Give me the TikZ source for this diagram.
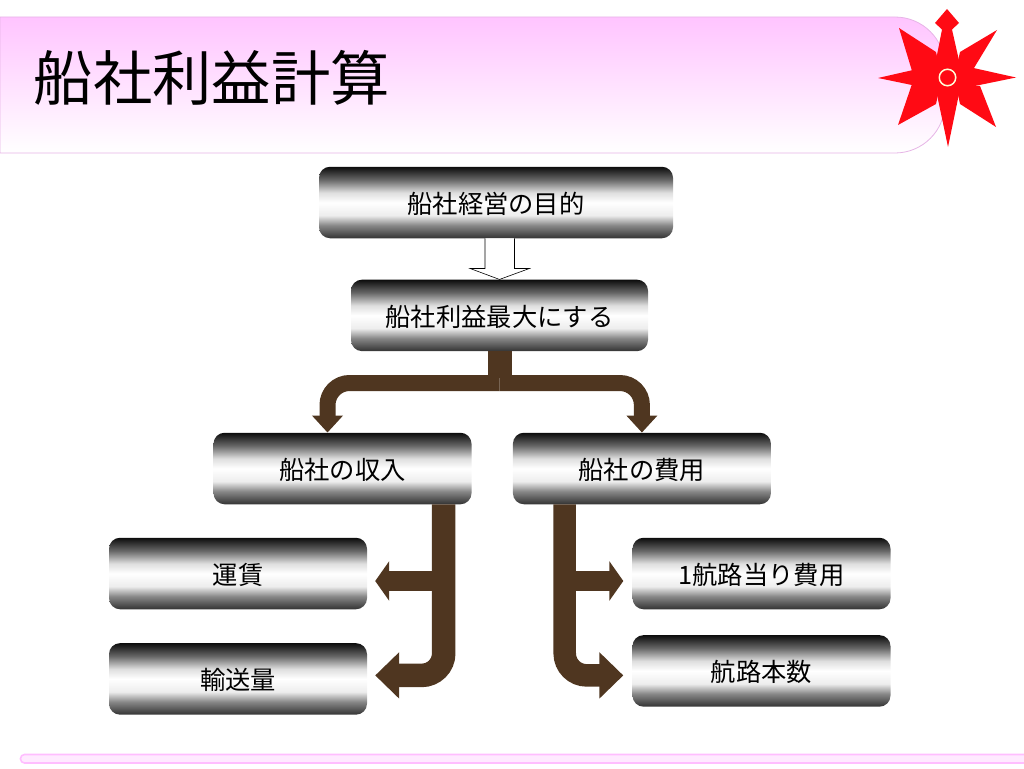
\documentclass[tikz,border=0pt]{standalone}
\usepackage{fontspec}
\setmainfont{Noto Sans CJK JP}
\usepackage{xcolor}
\usetikzlibrary{positioning,arrows.meta,calc}
\definecolor{bannerline}{HTML}{E6B4E6}
\definecolor{bannerpink}{HTML}{FFC4FF}
\definecolor{footerline}{HTML}{FFBEFF}
\definecolor{marble}{HTML}{4F3620}
\definecolor{compass}{HTML}{FF0A14}
\pgfdeclareverticalshading{metal}{100bp}{color(0bp)=(black!80); color(25bp)=(black!80); color(34bp)=(black!47);
    color(41bp)=(black!7); color(50bp)=(white); color(57bp)=(black!13); color(66bp)=(black!60);
    color(75bp)=(black!95); color(100bp)=(black!95)}
\tikzset{
    metalbox/.style={rounded corners=11pt, shade, shading=metal, minimum width=258pt, minimum height=71.5pt,
        inner sep=0pt, text height=21.4pt, text depth=0pt, font=\fontsize{25.3pt}{28pt}\selectfont},
    marblebar/.style={draw=marble, line width=#1},
    marblelink/.style={marblebar=#1, rounded corners=22pt},
    bigtip/.style={-{Triangle[width=45pt,length=24pt]}},
    midtip/.style={-{Triangle[width=39pt,length=14pt]}},
    toptip/.style={-{Triangle[width=30pt,length=17pt]}}
}

\begin{document}
\begin{tikzpicture}[x=1pt,y=-1pt]
    \useasboundingbox (0,0) rectangle (1024,768);

    \path[draw=bannerline, line width=0.8pt, top color=bannerpink, bottom color=white]
        (0,17) [rounded corners=50pt] -- (945,17) -- (945,153) [sharp corners] -- (0,153) -- cycle;
    \node[anchor=west, inner sep=0pt, font=\fontsize{59.4pt}{64pt}\selectfont] (title) at (33.5,78) {船社利益計算};

    \fill[compass] (899,28) -- (936,52) -- (940,70) -- (912,71) -- cycle;
    \fill[compass] (997,30) -- (960,52) -- (956,70) -- (974,68) -- cycle;
    \fill[compass] (898,125) -- (936,104) -- (940,85) -- (912,84) -- cycle;
    \fill[compass] (996,127) -- (960,104) -- (956,85) -- (980,86) -- cycle;
    \fill[compass] (947,9) -- (959,23) -- (952,29.5) -- (960,65) -- (1016,77.5) -- (960,89)
        -- (948,147) -- (936,90) -- (878,78) -- (935,65) -- (942,29.5) -- (935,23) -- cycle;
    \node[circle, draw=white!85!yellow, line width=1.5pt, fill=compass, minimum size=16.5pt, inner sep=0pt] (hub) at (947.5,77.5) {};

    \node[metalbox, minimum width=354pt] (goal) at (496,202.5) {船社経営の目的};
    \node[metalbox, minimum width=297pt, below=41pt of goal, xshift=3.5pt] (profit) {船社利益最大にする};
    \node[metalbox] (income) at (342.5,468.5) {船社の収入};
    \node[metalbox, right=41pt of income] (cost) {船社の費用};
    \node[metalbox] (fare) at (238,573.5) {運賃};
    \node[metalbox, below=33.5pt of fare] (volume) {輸送量};
    \node[metalbox] (percost) at (761.5,573.5) {1航路当り費用};
    \node[metalbox, below=25.5pt of percost] (routes) {航路本数};

    \draw[fill=white, line width=0.6pt] (goal.south -| profit.north) ++(-14.5,0) -- ++(0,30) -- ++(-15,0)
        -- (profit.north) -- ++(30,-11) -- ++(-15,0) -- ++(0,-30);

    \coordinate (lefttop) at ($(income.north)+(-15,0)$);
    \coordinate (leftdrop) at ($(income.south east)+(-28,0)$);
    \coordinate (rightdrop) at ($(cost.south west)+(52,0)$);
    \coordinate (faretip) at ($(fare.east)+(8,7.5)$);
    \coordinate (volumetip) at ($(volume.east)+(8,-3.5)$);
    \coordinate (percosttip) at ($(percost.west)+(-9,7.5)$);
    \coordinate (routestip) at ($(routes.west)+(-9,4.5)$);

    \draw[marblelink=16pt, toptip] (profit.south |- 0,383) -| (lefttop);
    \draw[marblelink=16pt, toptip] (profit.south |- 0,383) -| (cost.north);
    \draw[marblebar=24pt] (profit.south) -- ++(0,27);

    \draw[marblebar=20pt, midtip] (leftdrop |- faretip) -- (faretip);
    \draw[marblelink=23.5pt, bigtip] (leftdrop) |- (volumetip);
    \draw[marblebar=20pt, midtip] (rightdrop |- percosttip) -- (percosttip);
    \draw[marblelink=22.5pt, bigtip] (rightdrop) |- (routestip);

    \path[draw=footerline, line width=1.6pt, fill=bannerpink!35, rounded corners=4pt] (20.5,754.5) rectangle (1030,763);
\end{tikzpicture}
\end{document}
